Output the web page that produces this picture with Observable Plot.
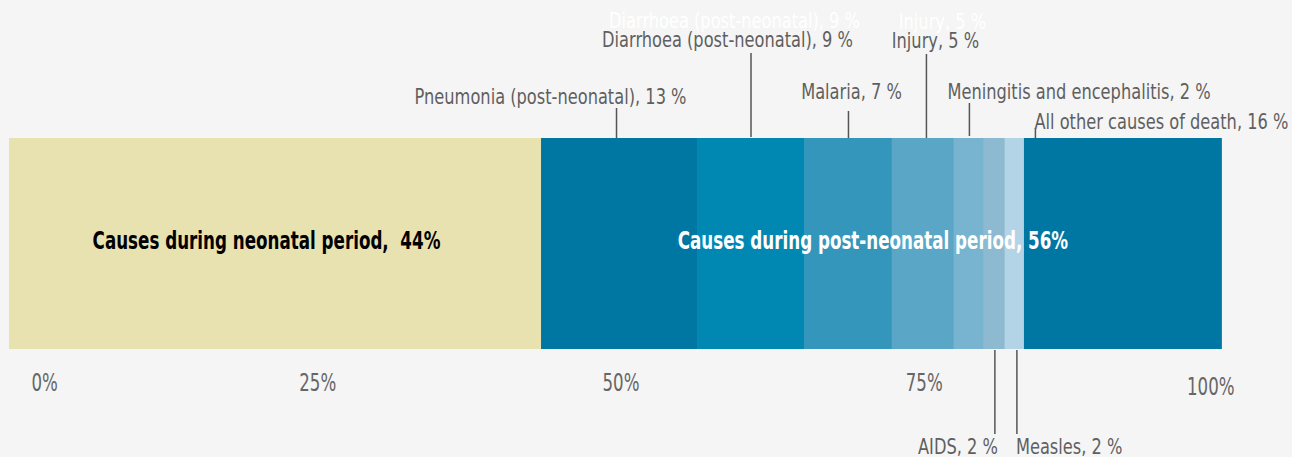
<!DOCTYPE html>
<html>
<head>
<meta charset="utf-8">
<script src="https://cdn.jsdelivr.net/npm/d3@7"></script>
<script src="https://cdn.jsdelivr.net/npm/@observablehq/plot@0.6"></script>
<style>
  html, body { margin: 0; padding: 0; background: #f5f5f5; }
  #chart svg { display: block; }
  #chart text { white-space: pre; }
</style>
</head>
<body>
<div id="chart"></div>
<script>
// ---- data ----
const causes = [
  "Causes during neonatal period",
  "Pneumonia (post-neonatal)",
  "Diarrhoea (post-neonatal)",
  "Malaria",
  "Injury",
  "Meningitis and encephalitis",
  "AIDS",
  "Measles",
  "All other causes of death"
];
const shares = [43.86, 12.86, 8.82, 7.25, 5.11, 2.47, 1.73, 1.57, 16.32];
const labelShares = [44, 13, 9, 7, 5, 2, 2, 2, 16];
const colors = ["#e8e2b1", "#0077a2", "#0088b3", "#3596bb", "#59a6c6", "#78b3cf", "#8dbad0", "#b3d4e6", "#0077a2"];
const groupLabels = ["Causes during neonatal period,  44%", "Causes during post-neonatal period, 56%"];
const groupOf = [0, 1, 1, 1, 1, 1, 1, 1, 1];
const tickValues = [0, 25, 50, 75, 100];
const tickLabels = ["0%", "25%", "50%", "75%", "100%"];

// ---- derived table ----
let acc = 0;
const rows = causes.map((c, i) => {
  const x1 = acc; acc += shares[i];
  return {cause: c, x1, x2: acc, mid: (x1 + acc) / 2, label: `${c}, ${labelShares[i]} %`};
});
const groups = groupLabels.map((g, gi) => {
  const r = rows.filter((d, i) => groupOf[i] === gi);
  return {label: g, mid: (r[0].x1 + r[r.length - 1].x2) / 2, fill: gi === 0 ? "#000" : "#fff"};
});

// ---- label layout (styling options per annotation) ----
const labelLayout = [
  {i: 1, at: "mid",   lineDx: -3, lineTop: 108, lineBottom: 138, anchor: "end",    dx: 67,  dy: 96},
  {i: 2, at: "mid",   lineDx: 0,  lineTop: 53,  lineBottom: 137, anchor: "end",    dx: 102, dy: 39, ghost: true},
  {i: 3, at: "mid",   lineDx: 0,  lineTop: 111, lineBottom: 138, anchor: "middle", dx: 3,   dy: 91},
  {i: 4, at: "mid",   lineDx: 3,  lineTop: 54,  lineBottom: 138, anchor: "middle", dx: 12,  dy: 40, ghost: true},
  {i: 5, at: "mid",   lineDx: 0,  lineTop: 103, lineBottom: 136, anchor: "start",  dx: -22, dy: 91},
  {i: 8, at: "start", lineDx: 11, lineTop: 128, lineBottom: 138, anchor: "start",  dx: 10,  dy: 121},
  {i: 6, at: "mid",   lineDx: 0,  lineTop: 350, lineBottom: 434, anchor: "end",    dx: 3,   dy: 446},
  {i: 7, at: "mid",   lineDx: 2,  lineTop: 350, lineBottom: 434, anchor: "start",  dx: 1,   dy: 446}
];

const H = 457;
const font = "'DejaVu Sans Condensed', 'DejaVu Sans', sans-serif";
const T = {frameAnchor: "top", lineAnchor: "middle"};

const marks = [
  Plot.barX(rows, {x1: "x1", x2: "x2", fill: "cause", insetTop: 138, insetBottom: H - 349})
];

for (const L of labelLayout) {
  const r = rows[L.i];
  const xv = L.at === "mid" ? r.mid : r.x1;
  marks.push(Plot.ruleX([xv], {x: d => d, dx: L.lineDx, stroke: "#555", strokeWidth: 1.5,
    insetTop: L.lineTop, insetBottom: H - L.lineBottom}));
  if (L.ghost) {
    marks.push(Plot.text([r], {...T, x: () => xv, text: "label", textAnchor: L.anchor,
      dx: L.dx + 7, dy: L.dy - 19, fill: "#ffffff", fontSize: 22}));
  }
  marks.push(Plot.text([r], {...T, x: () => xv, text: "label", textAnchor: L.anchor,
    dx: L.dx, dy: L.dy, fill: "#5f5f5f", fontSize: 22}));
}

// group labels inside the bar
marks.push(Plot.text(groups, {...T, x: "mid", text: "label", fill: "fill", dy: 241, dx: -9,
  fontSize: 24, fontWeight: "bold"}));

// percentage tick labels
const ticks = tickValues.map((v, i) => ({v, t: tickLabels[i]}));
marks.push(Plot.text(ticks.slice(0, 1), {...T, x: "v", text: "t", dy: 383, textAnchor: "start", dx: 22, fill: "#666", fontSize: 24}));
marks.push(Plot.text(ticks.slice(1, 4), {...T, x: "v", text: "t", dy: 383, dx: 5, fill: "#666", fontSize: 24}));
marks.push(Plot.text(ticks.slice(4), {...T, x: "v", text: "t", dy: 387, textAnchor: "end", dx: 12, fill: "#666", fontSize: 24}));

const chart = Plot.plot({
  width: 1292,
  height: H,
  marginLeft: 9,
  marginRight: 70,
  marginTop: 0,
  marginBottom: 0,
  x: {domain: [0, 100], axis: null},
  color: {domain: causes, range: colors},
  style: {background: "#f5f5f5", fontFamily: font, fontSize: "22px", overflow: "visible"},
  marks
});

// condense glyphs horizontally around each text's anchor (no narrow font installed)
chart.querySelectorAll("text").forEach(t => {
  const s = t.textContent;
  const k = tickLabels.includes(s) ? 0.77 : groupLabels.includes(s) ? 0.775 : 0.82;
  let tr = t.getAttribute("transform") || "";
  const x = t.getAttribute("x");
  if (x != null && isFinite(+x)) {
    tr = `translate(${+x},0) ` + tr;
    t.removeAttribute("x");
  }
  t.setAttribute("transform", tr + ` scale(${k},1)`);
});

document.getElementById("chart").append(chart);
</script>
</body>
</html>
